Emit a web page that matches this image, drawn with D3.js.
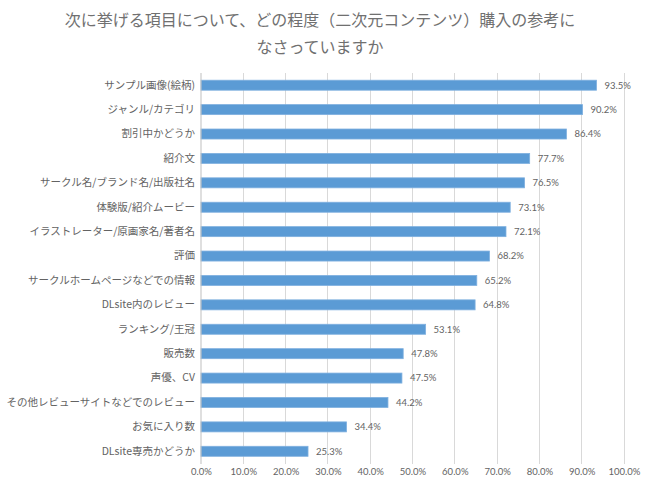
<!DOCTYPE html>
<html>
<head>
<meta charset="utf-8">
<script src="https://cdn.jsdelivr.net/npm/d3@7"></script>
<style>
  html, body { margin: 0; padding: 0; background: #fff; }
  svg { display: block; }
</style>
</head>
<body>
<svg id="chart" width="650" height="487"></svg>
<script>
const titleLines = ["次に挙げる項目について、どの程度（二次元コンテンツ）購入の参考に", "なさっていますか"];
const categories = [
  "サンプル画像(絵柄)", "ジャンル/カテゴリ", "割引中かどうか", "紹介文",
  "サークル名/ブランド名/出版社名", "体験版/紹介ムービー", "イラストレーター/原画家名/著者名", "評価",
  "サークルホームページなどでの情報", "DLsite内のレビュー", "ランキング/王冠", "販売数",
  "声優、CV", "その他レビューサイトなどでのレビュー", "お気に入り数", "DLsite専売かどうか"
];
const values = [93.5, 90.2, 86.4, 77.7, 76.5, 73.1, 72.1, 68.2, 65.2, 64.8, 53.1, 47.8, 47.5, 44.2, 34.4, 25.3];
const tickValues = [0, 10, 20, 30, 40, 50, 60, 70, 80, 90, 100];

const svg = d3.select("#chart");
const textColor = "#636363";
const cjk = "'Noto Sans CJK JP', 'Noto Sans', sans-serif";
const num = "Lato, 'Liberation Sans', sans-serif";

const x = d3.scaleLinear().domain([0, 100]).range([201, 624]);
const y = d3.scaleBand().domain(categories).range([73, 463.5]).paddingInner(0.59).paddingOuter(0.295);

// title
svg.selectAll("text.title").data(titleLines).join("text")
  .attr("class", "title")
  .attr("x", 320).attr("y", (d, i) => 26 + i * 27)
  .attr("text-anchor", "middle")
  .attr("font-family", cjk).attr("font-size", 16)
  .attr("fill", "#707070").text(d => d);

// gridlines
svg.append("g").selectAll("line").data(tickValues.slice(1)).join("line")
  .attr("x1", d => x(d)).attr("x2", d => x(d))
  .attr("y1", 73).attr("y2", 464)
  .attr("stroke", "#d9d9d9").attr("stroke-width", 1)
  .attr("shape-rendering", "crispEdges");

// x axis (labels only)
const xAxis = d3.axisBottom(x).tickValues(tickValues).tickFormat(d => d.toFixed(1) + "%").tickSize(0).tickPadding(4);
const gx = svg.append("g").attr("transform", "translate(0,464)").call(xAxis);
gx.select(".domain").remove();
gx.selectAll("text").attr("font-family", num).attr("font-size", 9.5).attr("fill", textColor);

// bars
svg.append("g").selectAll("rect").data(values).join("rect")
  .attr("x", x(0))
  .attr("y", (d, i) => y(categories[i]))
  .attr("width", d => x(d) - x(0))
  .attr("height", y.bandwidth())
  .attr("fill", "#5b9bd5")
  .attr("stroke", "#7fb0df").attr("stroke-width", 0.8);

// value labels
svg.append("g").selectAll("text").data(values).join("text")
  .attr("x", d => x(d) + 8)
  .attr("y", (d, i) => y(categories[i]) + y.bandwidth() / 2)
  .attr("dy", "0.35em")
  .attr("font-family", num).attr("font-size", 9.5)
  .attr("fill", textColor)
  .text(d => d.toFixed(1) + "%");

// y axis
const yAxis = d3.axisLeft(y).tickSize(0).tickPadding(6);
const gy = svg.append("g").attr("transform", `translate(${x(0)},0)`).call(yAxis);
gy.select(".domain").attr("stroke", "#bfbfbf").attr("d", "M0,73V464");
gy.selectAll("text").attr("font-family", cjk).attr("font-size", 10.5).attr("fill", textColor);
</script>
</body>
</html>
